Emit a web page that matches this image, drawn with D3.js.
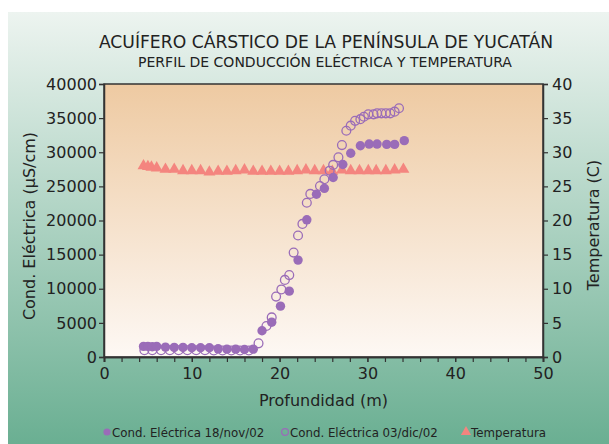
<!DOCTYPE html>
<html>
<head>
<meta charset="utf-8">
<script src="https://cdn.jsdelivr.net/npm/d3@7"></script>
<style>
  body { margin: 0; background: #fff; }
  text { font-family: "DejaVu Sans", sans-serif; fill: #222; }
</style>
</head>
<body>
<svg id="chart"></svg>
<script>
// data: depth (m) and value
var nov18Depth = [4.5, 5.0, 5.5, 6.0, 7.0, 8.0, 9.0, 10.0, 11.0, 12.0, 13.0, 14.0, 15.0, 16.0, 17.0,
                  18.0, 19.1, 20.1, 21.1, 22.1, 23.1, 24.2, 25.1, 26.1, 27.2, 28.1, 29.2, 30.2, 31.1, 32.2, 33.1, 34.2];
var nov18Cond = [1550, 1550, 1500, 1550, 1450, 1400, 1400, 1350, 1350, 1350, 1200, 1150, 1150, 1100, 1150,
                 3850, 5100, 7450, 9650, 14200, 20100, 23850, 24700, 26300, 28200, 29850, 30950, 31200, 31200, 31150, 31150, 31700];

var dic03Depth = [4.6, 5.5, 6.5, 7.5, 8.5, 9.5, 10.5, 11.5, 12.5, 13.5, 14.5, 15.5, 16.5, 17.6,
                  18.5, 19.1, 19.6, 20.2, 20.6, 21.1, 21.6, 22.1, 22.6, 23.1, 23.5, 24.6, 25.1, 25.7, 26.1, 26.7,
                  27.1, 27.6, 28.1, 28.6, 29.2, 29.6, 30.1, 30.7, 31.1, 31.6, 32.1, 32.6, 33.1, 33.6];
var dic03Cond = [1000, 1000, 1000, 1000, 1000, 1000, 1000, 1000, 950, 950, 950, 950, 950, 2000,
                 4550, 5800, 8850, 9900, 11300, 12000, 15300, 17800, 19500, 22600, 23900, 25050, 26050, 27300, 28150, 29250,
                 31050, 33150, 33900, 34600, 34850, 35200, 35550, 35550, 35700, 35700, 35700, 35700, 35950, 36450];

var tempDepth = [4.5, 5.0, 5.4, 6.0, 7.0, 8.0, 9.0, 10.0, 11.0, 12.0, 13.0, 14.0, 15.0, 16.0, 17.0, 18.0, 19.0,
                 20.0, 21.0, 22.0, 23.0, 24.0, 25.0, 26.0, 27.1, 28.1, 29.1, 30.1, 31.0, 32.1, 33.1, 34.1];
var tempVal = [28.0, 27.9, 27.8, 27.7, 27.5, 27.5, 27.3, 27.3, 27.3, 27.1, 27.2, 27.2, 27.3, 27.4, 27.2, 27.2, 27.2,
               27.2, 27.2, 27.3, 27.4, 27.3, 27.3, 27.2, 27.4, 27.3, 27.3, 27.3, 27.3, 27.3, 27.4, 27.5];

var xTicks = [0, 10, 20, 30, 40, 50];
var condTicks = [0, 5000, 10000, 15000, 20000, 25000, 30000, 35000, 40000];
var tempTicks = [0, 5, 10, 15, 20, 25, 30, 35, 40];
var legendLabels = ["Cond. Eléctrica 18/nov/02", "Cond. Eléctrica 03/dic/02", "Temperatura"];

var svgWidth = 609, svgHeight = 444;
var plotLeft = 104, plotRight = 543, plotTop = 84, plotBottom = 357;
var purple = "#9a6cb8", salmon = "#f4857f";

var svg = d3.select("#chart")
  .attr("width", svgWidth)
  .attr("height", svgHeight);

var defs = svg.append("defs");
var outerGrad = defs.append("linearGradient").attr("id", "outerGrad")
  .attr("x1", 0).attr("y1", 0).attr("x2", 0).attr("y2", 1);
outerGrad.append("stop").attr("offset", "0%").attr("stop-color", "#edf4f0");
outerGrad.append("stop").attr("offset", "100%").attr("stop-color", "#6aaf92");

var plotGrad = defs.append("linearGradient").attr("id", "plotGrad")
  .attr("x1", 0).attr("y1", 0).attr("x2", 0).attr("y2", 1);
plotGrad.append("stop").attr("offset", "0%").attr("stop-color", "#eecaa2");
plotGrad.append("stop").attr("offset", "100%").attr("stop-color", "#fdf8f4");

//backgrounds
svg.append("rect")
  .attr("x", 8).attr("y", 12)
  .attr("width", svgWidth - 8).attr("height", svgHeight - 12)
  .attr("fill", "url(#outerGrad)");

svg.append("rect")
  .attr("x", plotLeft).attr("y", plotTop)
  .attr("width", plotRight - plotLeft).attr("height", plotBottom - plotTop)
  .attr("fill", "url(#plotGrad)")
  .attr("stroke", "#333").attr("stroke-width", 1.5);

//scales
var xScale = d3.scaleLinear().domain([0, 50]).range([plotLeft, plotRight]);
var yCond = d3.scaleLinear().domain([0, 40000]).range([plotBottom, plotTop]);
var yTemp = d3.scaleLinear().domain([0, 40]).range([plotBottom, plotTop]);

function styleAxis(g) {
  g.selectAll("path").attr("stroke", "#333").attr("stroke-width", 1.5);
  g.selectAll("line").attr("stroke", "#333").attr("stroke-width", 1.2);
  g.selectAll("text").attr("font-family", "DejaVu Sans").attr("font-size", 16).attr("fill", "#222");
}

//minor ticks on x every 2 m
svg.append("g")
  .attr("transform", "translate(0," + plotBottom + ")")
  .call(d3.axisBottom(xScale).tickValues(d3.range(0, 51, 2)).tickSize(5).tickFormat(""))
  .call(styleAxis);

svg.append("g")
  .attr("transform", "translate(0," + plotBottom + ")")
  .call(d3.axisBottom(xScale).tickValues(xTicks).tickSize(5).tickPadding(6))
  .call(styleAxis);

svg.append("g")
  .attr("transform", "translate(" + plotLeft + ",0)")
  .call(d3.axisLeft(yCond).tickValues(condTicks).tickSize(5).tickPadding(2).tickFormat(d3.format("d")))
  .call(styleAxis);

svg.append("g")
  .attr("transform", "translate(" + plotRight + ",0)")
  .call(d3.axisRight(yTemp).tickValues(tempTicks).tickSize(5).tickPadding(4))
  .call(styleAxis);

//temperature triangles
var tri = d3.symbol().type(d3.symbolTriangle).size(62);
svg.append("g").selectAll("path")
  .data(d3.zip(tempDepth, tempVal))
  .enter().append("path")
  .attr("d", tri)
  .attr("transform", function(d) { return "translate(" + xScale(d[0]) + "," + yTemp(d[1]) + ")"; })
  .attr("fill", salmon);

//open circles (03/dic/02)
svg.append("g").selectAll("circle")
  .data(d3.zip(dic03Depth, dic03Cond))
  .enter().append("circle")
  .attr("cx", function(d) { return xScale(d[0]); })
  .attr("cy", function(d) { return yCond(d[1]); })
  .attr("r", 4.4)
  .attr("fill", "none")
  .attr("stroke", purple)
  .attr("stroke-width", 1.3);

//filled circles (18/nov/02)
svg.append("g").selectAll("circle")
  .data(d3.zip(nov18Depth, nov18Cond))
  .enter().append("circle")
  .attr("cx", function(d) { return xScale(d[0]); })
  .attr("cy", function(d) { return yCond(d[1]); })
  .attr("r", 4.7)
  .attr("fill", purple);

//titles
svg.append("text")
  .attr("x", 326).attr("y", 48)
  .attr("text-anchor", "middle")
  .attr("font-size", 17.2)
  .text("ACUÍFERO CÁRSTICO DE LA PENÍNSULA DE YUCATÁN");

svg.append("text")
  .attr("x", 325).attr("y", 67)
  .attr("text-anchor", "middle")
  .attr("font-size", 14)
  .text("PERFIL DE CONDUCCIÓN ELÉCTRICA Y TEMPERATURA");

svg.append("text")
  .attr("x", (plotLeft + plotRight) / 2).attr("y", 406)
  .attr("text-anchor", "middle")
  .attr("font-size", 16)
  .text("Profundidad (m)");

svg.append("text")
  .attr("transform", "translate(35,226) rotate(-90)")
  .attr("text-anchor", "middle")
  .attr("font-size", 16)
  .text("Cond. Eléctrica (µS/cm)");

svg.append("text")
  .attr("transform", "translate(599,225) rotate(-90)")
  .attr("text-anchor", "middle")
  .attr("font-size", 16)
  .text("Temperatura (C)");

//legend
var legendX = [103, 281, 462];
var legend = svg.append("g").selectAll("g")
  .data(legendLabels)
  .enter().append("g")
  .attr("transform", function(d, i) { return "translate(" + legendX[i] + ",432)"; });

legend.append("text")
  .attr("x", 9)
  .attr("y", 4.5)
  .attr("font-size", 11.8)
  .attr("fill", "#333")
  .text(function(d) { return d; });

legend.filter(function(d, i) { return i == 0; }).append("circle")
  .attr("cx", 4).attr("r", 3.6).attr("fill", purple);
legend.filter(function(d, i) { return i == 1; }).append("circle")
  .attr("cx", 4).attr("r", 3.4).attr("fill", "none").attr("stroke", purple).attr("stroke-width", 1.2);
legend.filter(function(d, i) { return i == 2; }).append("path")
  .attr("d", d3.symbol().type(d3.symbolTriangle).size(45))
  .attr("transform", "translate(4,0)")
  .attr("fill", salmon);
</script>
</body>
</html>
